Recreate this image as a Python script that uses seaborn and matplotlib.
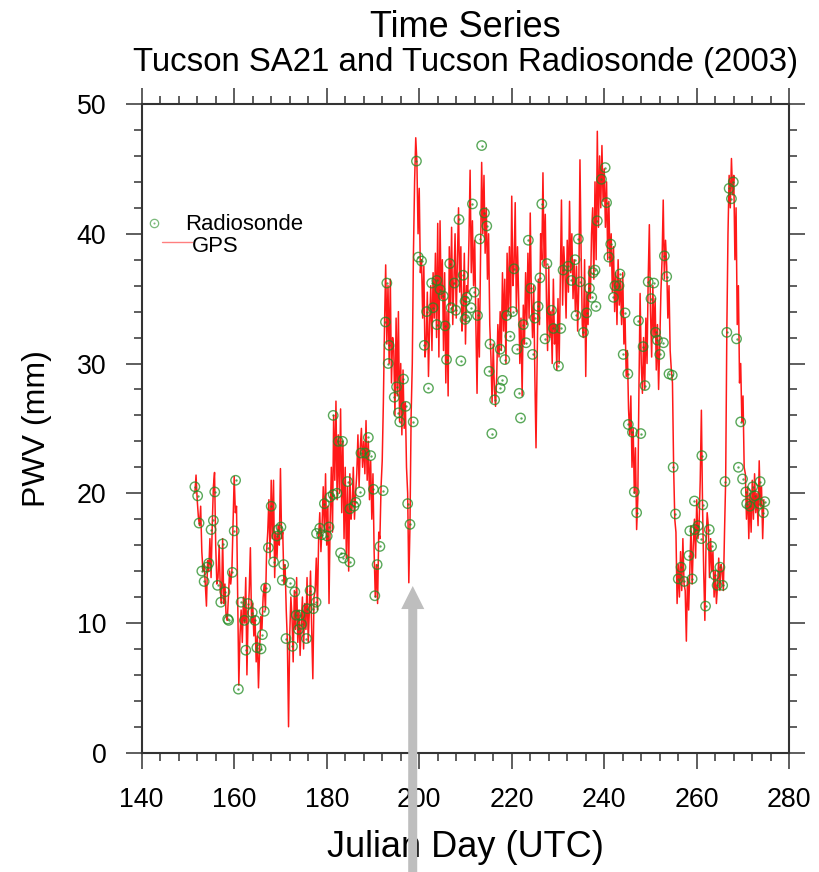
import numpy as np
import matplotlib
matplotlib.use('Agg')
import matplotlib.pyplot as plt
import seaborn as sns
from matplotlib.ticker import MultipleLocator
from matplotlib.lines import Line2D

# GPS PWV, 6-hourly samples starting at day 151.5 (one row per day)
gps_start = 151.5
gps_step = 0.25
gps_pwv = [
    20.0, 21.4, 19.5, 18.2,  17.5, 19.0, 15.5, 14.0,  14.5, 13.0, 11.3, 14.8,
    14.0, 16.5, 13.5, 17.5,  20.5, 21.6, 16.0, 13.0,  13.5, 16.0, 12.5, 11.5,
    16.5, 11.5, 13.0, 10.5,  10.2, 12.0, 14.0, 13.0,  14.0, 17.5, 21.3, 18.5,
    19.0, 12.0, 5.2, 9.0,    11.0, 8.5, 12.0, 10.0,   13.5, 6.0, 10.5, 12.5,
    15.8, 10.0, 11.5, 9.0,   10.5, 7.0, 9.0, 5.0,     8.0, 10.5, 9.5, 12.0,
    13.0, 11.0, 15.5, 17.0,  19.5, 15.0, 21.0, 16.5,  21.0, 13.5, 17.0, 15.0,
    17.5, 16.0, 21.9, 16.5,  17.0, 13.0, 14.5, 11.0,  8.5, 2.0, 9.0, 12.0,
    10.5, 7.0, 12.5, 9.5,    13.5, 8.5, 11.0, 7.5,    10.0, 12.0, 8.0, 11.5,
    9.5, 13.5, 8.5, 11.0,    14.0, 9.5, 5.7, 12.0,    12.5, 15.0, 11.0, 16.5,
    18.5, 15.5, 17.5, 20.5,  17.0, 21.5, 16.0, 19.0,  11.5, 18.0, 22.0, 17.0,
    26.0, 21.0, 27.1, 19.5,  24.5, 20.0, 26.5, 18.5,  24.0, 16.5, 22.0, 15.0,
    20.5, 14.0, 21.5, 18.0,  19.0, 22.0, 18.0, 20.0,  21.5, 24.5, 20.5, 23.5,
    25.0, 22.0, 24.0, 21.5,  25.6, 21.0, 24.0, 19.5,  22.5, 18.0, 21.5, 15.5,
    12.0, 14.5, 11.5, 17.0,  16.5, 20.5, 22.5, 27.0,  33.0, 37.6, 31.5, 36.0,
    30.0, 36.5, 28.5, 32.0,  31.0, 26.0, 33.5, 27.5,  34.0, 25.5, 30.0, 24.5,
    29.5, 25.0, 27.0, 22.0,  20.0, 13.1, 17.5, 26.0,  30.0, 38.5, 44.0, 47.4,
    45.5, 40.0, 43.5, 37.0,  38.0, 33.5, 37.5, 30.5,  31.5, 35.5, 29.0, 33.0,
    36.0, 31.0, 37.0, 33.5,  38.5, 32.0, 40.8, 30.5,  41.0, 35.0, 38.0, 31.0,
    37.0, 28.5, 34.0, 27.5,  39.0, 34.5, 40.5, 33.0,  36.5, 40.0, 33.5, 38.0,
    42.0, 35.5, 39.0, 32.5,  34.0, 38.5, 31.5, 36.0,  35.5, 39.5, 44.9, 37.0,
    41.0, 36.0, 39.5, 33.0,  27.7, 35.0, 30.5, 38.0,  45.5, 40.0, 44.5, 38.5,
    42.0, 36.5, 40.0, 33.0,  30.5, 27.0, 31.5, 28.0,  26.7, 29.0, 33.0, 30.5,
    34.0, 31.0, 37.0, 32.5,  36.5, 30.0, 38.5, 34.0,  39.0, 33.5, 42.9, 36.0,
    37.5, 42.4, 34.0, 39.0,  35.0, 30.0, 33.5, 27.5,  34.5, 31.5, 37.0, 33.0,
    38.5, 33.5, 41.6, 35.0,  32.0, 36.0, 29.0, 23.5,  30.5, 36.5, 33.0, 40.0,
    38.0, 44.7, 37.5, 41.5,  35.0, 31.0, 37.5, 32.0,  34.0, 30.0, 36.5, 31.5,
    33.0, 29.5, 35.0, 30.0,  36.5, 42.6, 34.5, 39.0,  37.0, 33.5, 39.5, 35.5,
    42.5, 37.0, 40.0, 35.0,  38.0, 34.0, 37.5, 32.5,  36.0, 45.7, 38.5, 33.0,
    32.0, 38.0, 29.0, 35.5,  33.0, 37.5, 35.0, 40.0,  42.0, 36.5, 44.0, 38.0,
    47.9, 40.5, 46.0, 42.0,  46.8, 42.5, 45.0, 40.5,  44.0, 38.0, 42.5, 37.5,
    40.0, 35.5, 39.0, 34.0,  37.0, 33.0, 38.0, 34.5,  36.5, 33.0, 37.0, 31.5,
    33.5, 29.0, 31.0, 26.5,  24.5, 27.5, 22.0, 25.0,  20.0, 23.5, 17.2, 19.5,
    28.0, 35.4, 30.0, 27.7,  32.0, 28.0, 33.5, 30.0,  36.5, 40.7, 34.0, 30.5,
    36.0, 32.0, 35.0, 29.5,  33.0, 28.0, 31.5, 35.5,  38.0, 42.6, 36.5, 39.5,
    37.5, 33.5, 36.0, 31.0,  29.5, 28.5, 22.0, 18.0,  17.0, 11.5, 14.5, 12.0,
    15.5, 12.5, 16.5, 13.0,  12.5, 8.6, 13.5, 11.0,   14.0, 17.5, 13.0, 16.0,
    18.0, 15.0, 19.5, 16.5,  17.5, 21.0, 26.4, 19.0,  14.0, 10.2, 16.0, 18.5,
    17.5, 13.5, 16.5, 14.0,  15.5, 12.0, 14.0, 11.5,  13.0, 15.0, 12.5, 14.5,
    14.0, 12.5, 17.0, 21.0,  32.5, 40.0, 44.5, 42.0,  45.8, 43.0, 44.5, 38.0,
    42.0, 33.0, 36.0, 28.5,  30.0, 25.5, 27.5, 22.0,  21.5, 18.0, 20.5, 16.5,
    20.0, 17.0, 21.0, 18.0,  21.5, 18.5, 20.0, 17.5,  22.5, 19.0, 20.5, 16.5,
    19.5,
]

# radiosonde launches
rs_day = [
    151.5, 152.1, 152.4, 153.0, 153.5, 154.1, 154.5, 155.0, 155.5, 155.8,
    156.4, 157.1, 157.5, 158.0, 158.6, 158.8, 159.6, 160.0, 160.3, 160.9,
    161.5, 162.2, 162.5, 163.0, 163.9, 164.5, 164.9, 165.8, 166.1, 166.5,
    166.8, 167.4, 168.0, 168.5, 169.2, 169.5, 170.1, 170.4, 170.7, 171.2,
    172.1, 172.6, 173.1, 173.4, 173.9, 174.2, 174.6, 175.6, 175.8, 176.4,
    177.1, 177.7, 177.8, 178.5, 178.9, 179.5, 180.1, 180.5, 180.7, 181.4,
    181.4, 182.2, 182.5, 183.0, 183.4, 183.6, 184.5, 185.0, 185.0, 185.9,
    186.3, 187.2, 187.4, 188.3, 189.0, 189.5, 190.1, 190.4, 190.9, 191.5,
    192.2, 192.7, 193.0, 193.3, 193.5, 194.6, 195.1, 195.5, 195.8, 196.6,
    197.1, 197.5, 198.0, 198.7, 199.4, 199.8, 200.5, 201.1, 201.6, 202.0,
    202.7, 203.0, 203.8, 203.8, 204.5, 205.2, 205.6, 205.9, 206.6, 206.9,
    207.6, 207.9, 208.6, 209.0, 209.5, 209.9, 209.9, 210.3, 210.3, 211.2,
    211.5, 211.9, 212.6, 213.1, 213.5, 214.1, 214.6, 215.1, 215.3, 215.7,
    216.3, 217.5, 217.5, 218.0, 218.5, 218.9, 219.6, 220.2, 220.5, 221.1,
    221.6, 221.9, 222.5, 223.1, 223.6, 224.1, 224.5, 225.0, 225.7, 226.1,
    226.5, 227.2, 227.6, 228.6, 229.0, 230.1, 230.6, 231.1, 232.2, 232.9,
    233.7, 233.9, 234.4, 234.8, 235.5, 236.2, 236.8, 237.3, 237.6, 238.0,
    238.2, 238.5, 239.4, 240.2, 240.5, 241.0, 241.4, 242.0, 242.3, 243.2,
    243.4, 244.1, 244.5, 245.1, 245.2, 246.1, 246.5, 247.0, 247.4, 247.9,
    248.4, 248.8, 249.5, 250.1, 250.7, 251.1, 251.5, 252.0, 252.8, 253.0,
    253.5, 254.0, 254.7, 254.9, 255.4, 256.0, 256.6, 257.3, 258.3, 258.5,
    259.0, 259.5, 259.6, 260.3, 261.0, 261.1, 261.3, 261.9, 262.7, 263.2,
    263.9, 264.4, 265.0, 265.6, 266.1, 266.5, 267.0, 267.5, 267.9, 268.6,
    269.0, 269.5, 269.9, 270.6, 270.8, 271.5, 272.1, 272.6, 273.5, 273.7,
    274.4, 274.7,
]
rs_pwv = [
    20.5, 19.8, 17.7, 14.0, 13.2, 14.3, 14.6, 17.2, 17.9, 20.1,
    12.9, 11.6, 16.1, 12.4, 10.3, 10.2, 13.9, 17.1, 21.0, 4.9,
    11.6, 10.2, 7.9, 11.5, 10.8, 10.2, 8.1, 8.0, 9.1, 10.9,
    12.7, 15.8, 19.0, 14.7, 16.7, 17.2, 17.4, 13.3, 14.5, 8.8,
    13.1, 8.2, 12.4, 10.6, 9.5, 10.6, 9.9, 8.8, 11.1, 12.5,
    11.1, 11.6, 16.9, 17.3, 16.8, 19.2, 16.7, 17.4, 19.7, 19.9,
    26.0, 20.0, 24.0, 15.4, 24.0, 15.0, 20.9, 14.7, 18.8, 19.0,
    19.3, 20.1, 23.1, 23.1, 24.3, 22.9, 20.3, 12.1, 14.5, 15.9,
    20.2, 33.2, 36.2, 30.0, 31.4, 27.4, 28.2, 26.2, 25.5, 28.8,
    26.7, 19.2, 17.6, 25.5, 45.6, 38.2, 37.9, 31.4, 34.0, 28.1,
    36.2, 34.3, 36.4, 33.0, 35.7, 35.2, 32.9, 30.3, 37.7, 34.3,
    36.2, 34.1, 41.1, 30.2, 36.8, 34.8, 33.4, 35.1, 33.6, 34.3,
    42.3, 35.5, 33.7, 39.6, 46.8, 41.6, 40.6, 29.4, 31.5, 24.6,
    27.2, 28.1, 31.1, 28.7, 30.3, 33.7, 32.1, 34.0, 37.3, 31.1,
    27.7, 25.8, 33.0, 31.6, 39.5, 35.8, 30.7, 33.5, 34.4, 36.6,
    42.3, 31.9, 37.7, 34.1, 32.7, 29.8, 32.7, 37.2, 37.5, 36.4,
    38.0, 33.7, 39.6, 36.3, 32.4, 33.9, 35.8, 35.1, 37.0, 37.2,
    34.4, 41.0, 44.2, 45.1, 42.4, 38.2, 39.2, 35.1, 36.0, 36.0,
    36.9, 30.7, 33.9, 29.2, 25.3, 24.7, 20.1, 18.5, 33.3, 24.6,
    31.3, 28.3, 36.3, 35.0, 36.2, 32.4, 31.8, 30.7, 31.6, 38.3,
    36.7, 29.2, 29.1, 22.0, 18.4, 13.4, 14.3, 13.2, 15.2, 17.1,
    13.4, 19.4, 17.2, 17.5, 16.5, 22.9, 19.1, 11.3, 17.2, 15.9,
    13.7, 12.9, 14.3, 12.9, 20.9, 32.4, 43.5, 42.7, 44.0, 31.9,
    22.0, 25.5, 21.1, 20.1, 19.2, 19.0, 20.5, 19.8, 19.2, 20.9,
    18.5, 19.35,
]

gps_day = gps_start + gps_step * np.arange(len(gps_pwv))

sns.set_theme(style='white')
plt.rcParams['font.family'] = ['Liberation Sans', 'DejaVu Sans']
plt.rcParams['text.color'] = 'black'
plt.rcParams['axes.labelcolor'] = 'black'

fig = plt.figure(figsize=(8.19, 8.72), dpi=100)
ax = fig.add_axes([0.1730, 0.1368, 0.7907, 0.7439])

green = '#228B22'
sns.lineplot(x=gps_day, y=gps_pwv, ax=ax, color='red', lw=1.1, alpha=0.9,
             estimator=None, sort=False)
sns.scatterplot(x=rs_day, y=rs_pwv, ax=ax, marker='o', s=46, facecolor='none',
                edgecolor=green, linewidth=1.0, alpha=0.75, zorder=3)
sns.scatterplot(x=rs_day, y=rs_pwv, ax=ax, marker='o', s=3, color=green,
                linewidth=0, alpha=0.75, zorder=3)

ax.set_xlim(140, 280)
ax.set_ylim(0, 50)
ax.xaxis.set_major_locator(MultipleLocator(20))
ax.xaxis.set_minor_locator(MultipleLocator(4))
ax.yaxis.set_major_locator(MultipleLocator(10))
ax.yaxis.set_minor_locator(MultipleLocator(2))

axis_col = '#333333'
for sp in ax.spines.values():
    sp.set_visible(True)
    sp.set_color(axis_col)
    sp.set_linewidth(1.5)
ax.tick_params(which='both', direction='out', top=True, right=True,
               bottom=True, left=True, labeltop=False, labelright=False,
               color=axis_col, width=1.1, labelcolor='black')
ax.tick_params(which='major', length=11.5)
ax.tick_params(which='minor', length=5.8)
ax.tick_params(axis='x', labelsize=19.3, pad=13)
ax.tick_params(axis='y', labelsize=19.3, pad=14)

ax.set_xlabel('Julian Day (UTC)', fontsize=26)
ax.set_ylabel('PWV (mm)', fontsize=23)
ax.xaxis.set_label_coords(0.5, -0.119)
ax.yaxis.set_label_coords(-0.1385, 0.5)

fig.text(0.5684, 0.9576, 'Time Series', ha='center', va='baseline', fontsize=26)
fig.text(0.5684, 0.9186, 'Tucson SA21 and Tucson Radiosonde (2003)',
         ha='center', va='baseline', fontsize=23.8)

# legend in NCL style
ax.add_line(Line2D([0.0195], [0.8170], transform=ax.transAxes, marker='o',
                   ms=6, mfc='none', mec=green, mew=0.9, alpha=0.6, ls='none'))
ax.add_line(Line2D([0.0195], [0.8170], transform=ax.transAxes, marker='o',
                   ms=1.5, mfc=green, mec='none', alpha=0.6, ls='none'))
ax.add_line(Line2D([0.0309, 0.0772], [0.7877, 0.7877], transform=ax.transAxes,
                   color='red', lw=1.0, alpha=0.5))
ax.text(0.0669, 0.8060, 'Radiosonde', transform=ax.transAxes, fontsize=15.9,
        va='baseline', ha='left')
ax.text(0.0772, 0.7725, 'GPS', transform=ax.transAxes, fontsize=15.9,
        va='baseline', ha='left')

# grey arrow pointing at the day-198 dip
ax.annotate('', xy=(198.6, 12.85), xycoords='data',
            xytext=(412.7, -20), textcoords='figure pixels',
            arrowprops=dict(facecolor='#bebebe', edgecolor='none', width=6.5,
                            headwidth=16.6, headlength=16.6, shrink=0),
            annotation_clip=False, zorder=10)

fig.savefig('out.png', dpi=100)
